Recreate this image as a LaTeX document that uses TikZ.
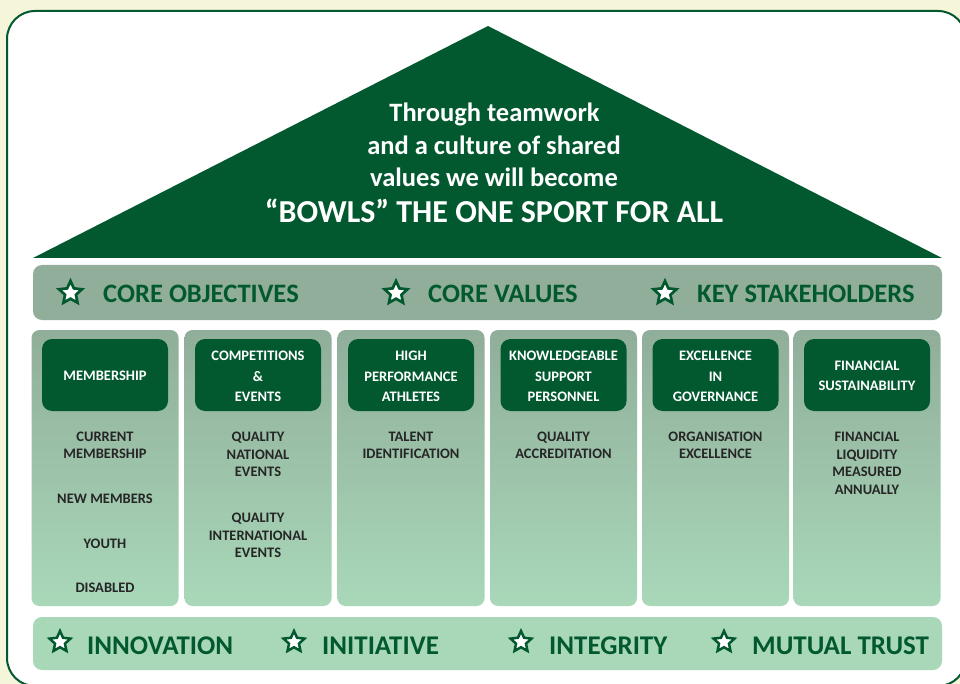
\documentclass[tikz,border=0pt]{standalone}
\usepackage{fontspec}
\setmainfont{Carlito}
\usetikzlibrary{shapes.geometric}
\definecolor{dg}{HTML}{03592F}
\definecolor{bandtop}{HTML}{90AE9A}
\definecolor{bandbot}{HTML}{A9D8B9}
\definecolor{cream}{HTML}{F4F5D9}
\definecolor{txt}{HTML}{262626}
\begin{document}
\begin{tikzpicture}[x=1pt,y=-1pt,
  starbig/.style={star, star points=5, star point ratio=2.1, minimum size=24pt, inner sep=0pt, outer sep=0pt, draw=dg, fill=white, line width=2.7pt, line join=miter},
  starsmall/.style={starbig, minimum size=22pt, line width=2.5pt},
  toptext/.style={anchor=base west, text=dg, inner sep=0pt, font=\bfseries\fontsize{26.6}{30}\selectfont},
  bottext/.style={anchor=base west, text=dg, inner sep=0pt, font=\bfseries\fontsize{27}{30}\selectfont},
  band/.style={rounded corners=9pt, minimum width=909pt, inner sep=0pt},
  colbox/.style={rounded corners=8pt, top color=bandtop, bottom color=bandbot, minimum width=147pt, minimum height=276pt, inner sep=0pt},
  hdr/.style={fill=dg, rounded corners=10pt, minimum width=126pt, minimum height=72pt, inner sep=0pt},
  hdrtext/.style={text=white, align=center, inner sep=0pt, font=\bfseries\fontsize{14.5}{20.5}\selectfont},
  item/.style={text=txt, align=center, inner sep=0pt, font=\bfseries\fontsize{14.5}{17.5}\selectfont},
  rooftext/.style={text=white, align=center, inner sep=0pt, font=\bfseries\fontsize{26.5}{33}\selectfont}]

\fill[cream] (0,0) rectangle (960,684);
\useasboundingbox (0,0) rectangle (960,684);
\draw[dg, line width=2pt, fill=white, rounded corners=28pt] (7,11) rectangle (966,686);

% roof
\coordinate (rl) at (33,258);
\coordinate (ra) at (488,26);
\coordinate (rr) at (942,258);
\fill[dg] (rl) -- (ra) -- (rr) -- cycle;
\node[rooftext, anchor=base] (roof1) at (494.5,122) {Through teamwork};
\node[rooftext, anchor=base] (roof2) at (494,155) {and a culture of shared};
\node[rooftext, anchor=base] (roof3) at (494,187) {values we will become};
\node[rooftext, anchor=base, font=\bfseries\fontsize{32}{33}\selectfont] (roof4) at (494,223) {“BOWLS” THE ONE SPORT FOR ALL};

% top band
\node[band, fill=bandtop, minimum height=55pt] (topband) at (487.5,292.5) {};
\node[starbig] (ts1) at (70.5,293) {};
\node[toptext] (tt1) at (103,302) {CORE OBJECTIVES};
\node[starbig] (ts2) at (396,293) {};
\node[toptext] (tt2) at (428,302) {CORE VALUES};
\node[starbig] (ts3) at (665,293) {};
\node[toptext] (tt3) at (697,302) {KEY STAKEHOLDERS};

% columns
\foreach \i/\x in {1/105,2/258,3/411,4/563.5,5/715.5,6/867}{
  \node[colbox] (col\i) at (\x,468) {};
  \node[hdr] (hdr\i) at (\x,375) {};
}
\node[hdrtext] (h1) at ([yshift=-1pt]hdr1) {MEMBERSHIP};
\node[hdrtext] (h2) at ([yshift=-1.5pt]hdr2) {COMPETITIONS\\\&\\EVENTS};
\node[hdrtext] (h3) at ([yshift=-1.5pt]hdr3) {HIGH\\PERFORMANCE\\ATHLETES};
\node[hdrtext] (h4) at ([yshift=-1.5pt]hdr4) {KNOWLEDGEABLE\\SUPPORT\\PERSONNEL};
\node[hdrtext] (h5) at ([yshift=-1.5pt]hdr5) {EXCELLENCE\\IN\\GOVERNANCE};
\node[hdrtext] (h6) at ([yshift=-1pt]hdr6) {FINANCIAL\\SUSTAINABILITY};

\node[item] (i11) at (105,445.5) {CURRENT\\MEMBERSHIP};
\node[item] (i12) at (105,499) {NEW MEMBERS};
\node[item] (i13) at (105,544) {YOUTH};
\node[item] (i14) at (105,588) {DISABLED};
\node[item] (i21) at (258,454.5) {QUALITY\\NATIONAL\\EVENTS};
\node[item] (i22) at (258,535.5) {QUALITY\\INTERNATIONAL\\EVENTS};
\node[item] (i31) at (411,445.5) {TALENT\\IDENTIFICATION};
\node[item] (i41) at (563.5,445.5) {QUALITY\\ACCREDITATION};
\node[item] (i51) at (715.5,445.5) {ORGANISATION\\EXCELLENCE};
\node[item] (i61) at (867,463.5) {FINANCIAL\\LIQUIDITY\\MEASURED\\ANNUALLY};

% bottom band
\node[band, fill=bandbot, minimum height=53pt] (botband) at (487.5,643.5) {};
\node[starsmall] (bs1) at (60,642) {};
\node[bottext] (bt1) at (87,654) {INNOVATION};
\node[starsmall] (bs2) at (294,642) {};
\node[bottext] (bt2) at (322,654) {INITIATIVE};
\node[starsmall] (bs3) at (521,642) {};
\node[bottext] (bt3) at (549,654) {INTEGRITY};
\node[starsmall] (bs4) at (724,642) {};
\node[bottext] (bt4) at (752,654) {MUTUAL TRUST};
\end{tikzpicture}
\end{document}
